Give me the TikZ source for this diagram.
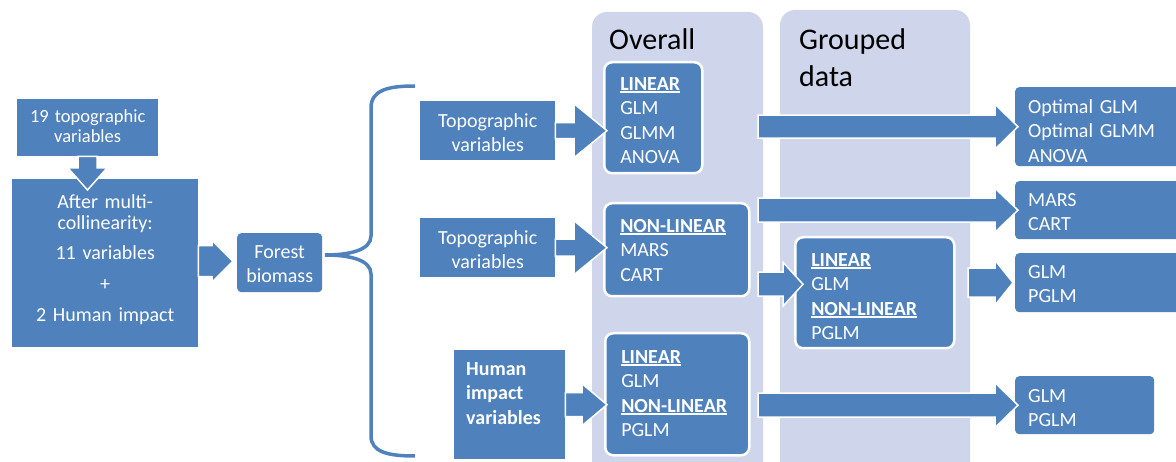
\documentclass[tikz,border=0pt]{standalone}
\usepackage{fontspec}
\setmainfont{Carlito}
\usetikzlibrary{calc}
\definecolor{bl}{HTML}{4F81BD}
\definecolor{lav}{HTML}{CFD5EA}
\newcommand\fA{\fontsize{20}{24.5}\selectfont}
\newcommand\fS{\fontsize{18.5}{20}\selectfont}
\newcommand\fB{\fontsize{20}{21}\selectfont}
\newcommand\fH{\fontsize{30}{37}\selectfont}
\newcommand\ulb[1]{\leavevmode\setbox0=\hbox{\bfseries #1}\rlap{\rule[-2.7pt]{\wd0}{1.6pt}}\box0}
\newcommand\barrow[5]{\path[arr] let \p1=(#1), \p2=(#2) in
  (\x1,\y2+#4) -- (\x2-#3,\y2+#4) -- (\x2-#3,\y2+#5) -- (\p2) --
  (\x2-#3,\y2-#5) -- (\x2-#3,\y2-#4) -- (\x1,\y2-#4) -- cycle;}
\tikzset{
  bx/.style={fill=bl, text=white, anchor=north west, inner ysep=0pt, font=\fA},
  pbox/.style={bx, draw=white, line width=2.5pt, rounded corners=8pt, align=left, inner xsep=16pt},
  rbox/.style={bx, rounded corners=4pt, align=left, inner xsep=13pt},
  arr/.style={fill=bl, draw=white, line width=1.5pt, line join=miter},
  panel/.style={fill=lav, rounded corners=15pt},
  ptitle/.style={anchor=base west, inner sep=0pt, font=\fH, text=black, align=left, text width=160pt},
  brace/.style={draw=bl, line width=3.5pt}
}
\begin{document}
\begin{tikzpicture}[x=1pt,y=-1pt]
\useasboundingbox (0,0) rectangle (1176,462);
\clip (0,0) rectangle (1176,462);
% panels
\fill[panel] (592,12) rectangle (763,500);
\fill[panel] (780,10) rectangle (970,500);
\node[ptitle] (ov) at (609,50) {Overall};
\node[ptitle] (gd) at (799,50) {Grouped\\data};
% left column
\node[bx, inner xsep=0pt, text width=141pt, text height=23pt, text depth=34pt, align=center, font=\fS] (t19) at (17,99) {19 topographic\\variables};
\node[bx, inner xsep=0pt, text width=186pt, text height=29pt, text depth=139pt, align=center, font=\fB] (big) at (12,179) {After multi-\\collinearity:\\[9pt]11 variables\\[10pt]+\\[10pt]2 Human impact};
\node[bx, rounded corners=4pt, inner xsep=0pt, text width=85pt, text height=25pt, text depth=34pt, align=center] (fb) at (237,233) {Forest\\biomass};
% inputs
\node[bx, inner xsep=0pt, text width=135pt, text height=26pt, text depth=33pt, align=center] (t1) at (420,101) {Topographic\\variables};
\node[bx, inner xsep=0pt, text width=135pt, text height=26pt, text depth=33pt, align=center] (t2) at (420,218) {Topographic\\variables};
\node[bx, inner xsep=12pt, text width=87pt, text height=25pt, text depth=84pt, align=left, font=\fA\bfseries] (hu) at (454,350) {Human\\impact\\variables};
% overall boxes
\node[pbox, text width=66pt, text height=28pt, text depth=83pt] (lin1) at (603,61) {\ulb{LINEAR}\\GLM\\GLMM\\ANOVA};
\node[pbox, text width=113pt, text height=29pt, text depth=64pt] (non1) at (603,202) {\ulb{NON-LINEAR}\\MARS\\CART};
\node[pbox, text width=112pt, text height=30pt, text depth=92pt] (both1) at (604,332) {\ulb{LINEAR}\\GLM\\\ulb{NON-LINEAR}\\PGLM};
% grouped box
\node[pbox, text width=127pt, text height=29pt, text depth=82pt] (grp) at (794,236) {\ulb{LINEAR}\\GLM\\\ulb{NON-LINEAR}\\PGLM};
% results
\node[rbox, text width=154pt, text height=26pt, text depth=53pt] (r1) at (1015,87) {Optimal GLM\\Optimal GLMM\\ANOVA};
\node[rbox, text width=154pt, text height=25pt, text depth=33pt] (r2) at (1015,181) {MARS\\CART};
\node[rbox, text width=154pt, text height=25pt, text depth=34pt] (r3) at (1015,253) {GLM\\PGLM};
\node[rbox, text width=113pt, text height=26pt, text depth=32pt] (r4) at (1015,376) {GLM\\PGLM};
% brace
\coordinate (bt) at (325,255);
\draw[brace] (415,86) .. controls (388,86) and (371,90) .. (371,108) -- (371,236)
  .. controls (371,250) and (350,255) .. (bt)
  .. controls (350,255) and (371,260) .. (371,274) -- (371,436)
  .. controls (371,452) and (388,456) .. (415,456);
% arrows
\coordinate (dtip) at (87.5,190);
\path[arr] let \p1=(t19.south), \p2=(dtip) in
  (\x2-9.5pt,\y1) -- (\x2-9.5pt,\y2+22pt) -- (\x2-19.5pt,\y2+22pt) -- (\p2) --
  (\x2+19.5pt,\y2+22pt) -- (\x2+9.5pt,\y2+22pt) -- (\x2+9.5pt,\y1) -- cycle;
\coordinate (k0) at ($(fb.west)+(-4,-1.5)$);
\barrow{big.east}{k0}{21pt}{15.5pt}{21pt}
\coordinate (k1) at ($(lin1.west |- t1.east)+(4,0)$);
\barrow{t1.east}{k1}{33pt}{8pt}{27pt}
\coordinate (k2) at ($(non1.west |- t2.east)+(4,0)$);
\barrow{t2.east}{k2}{33pt}{8.5pt}{27pt}
\coordinate (k3) at ($(both1.west |- hu.east)+(3,0)$);
\barrow{hu.east}{k3}{25pt}{12pt}{21pt}
\coordinate (a0) at (758,127);
\coordinate (b0) at (758,210);
\coordinate (c0) at (758,283);
\coordinate (d0) at (968,282);
\coordinate (e0) at (758,404);
\coordinate (a1) at ($(r1.west)+(3,0)$);
\coordinate (b1) at ($(r2.west)+(3,0)$);
\coordinate (c1) at ($(grp.west)+(9,-8.5)$);
\coordinate (d1) at ($(r3.west)+(-2,0)$);
\coordinate (e1) at ($(r4.west)+(3,0)$);
\barrow{a0}{a1}{23pt}{11.5pt}{22.5pt}
\barrow{b0}{b1}{23pt}{12pt}{22pt}
\barrow{c0}{c1}{20pt}{12pt}{22pt}
\barrow{d0}{d1}{18pt}{14.5pt}{22.5pt}
\barrow{e0}{e1}{23pt}{12pt}{22.5pt}
\end{tikzpicture}
\end{document}
